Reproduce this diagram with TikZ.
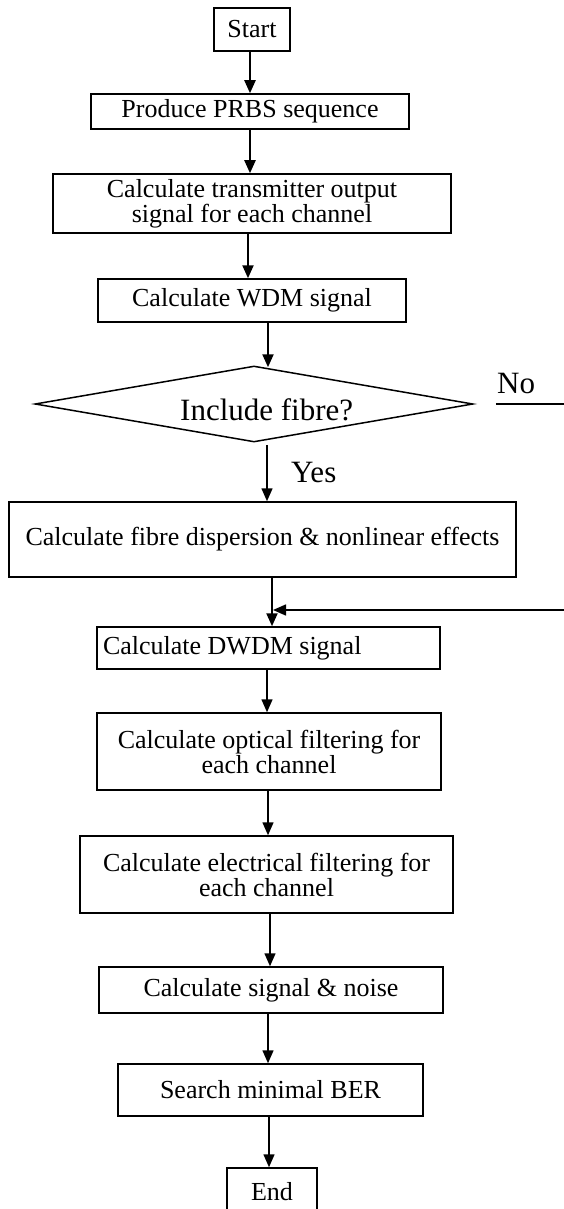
\documentclass[tikz,border=0pt]{standalone}
\usepackage{fontspec}
\setmainfont{Liberation Serif}
\usetikzlibrary{arrows.meta,shapes.geometric}
\begin{document}
\begin{tikzpicture}[x=1pt,y=-1pt,
  box/.style={draw, line width=1.5pt, rectangle, inner sep=0pt, align=center,
              font=\fontsize{26}{25}\selectfont},
  arr/.style={line width=1.5pt, -{Triangle[length=13pt,width=11pt]}},
  heavy/.style={line width=2.2pt},
  lbl/.style={inner sep=0pt, font=\fontsize{31}{31}\selectfont}]
\useasboundingbox (0,0) rectangle (564,1209);

% process boxes
\node[box, minimum width=76pt,  minimum height=43pt] (start) at (252,29.5)  {Start};
\node[box, minimum width=318pt, minimum height=35pt] (prbs)  at (250,111.5) {Produce PRBS sequence};
\node[box, minimum width=398pt, minimum height=59pt] (trans) at (252,203.5) {Calculate transmitter output\\signal for each channel};
\node[box, minimum width=308pt, minimum height=43pt] (wdm)   at (252,300.5) {Calculate WDM signal};

% decision
\node[draw, line width=1.5pt, diamond, shape aspect=5.76, inner sep=0pt,
      minimum width=438pt, minimum height=76pt] (dia) at (254,404) {};
\node[lbl, anchor=base west] (ask) at (180,420) {Include fibre?};
\node[lbl, anchor=base west] (yes) at (291,482) {Yes};
\node[lbl, anchor=base west] (no)  at (497,393) {No};

\node[box, minimum width=507pt, minimum height=75pt] (fibre) at (262.5,539.5) {Calculate fibre dispersion \& nonlinear effects};
\node[box, minimum width=343pt, minimum height=42pt] (dwdm) at (268.5,648)
      {\makebox[331pt][l]{Calculate DWDM signal}};
\node[box, minimum width=344pt, minimum height=77pt] (optf) at (269,751.5) {Calculate optical filtering for\\each channel};
\node[box, minimum width=373pt, minimum height=77pt] (elef) at (266.5,874.5) {Calculate electrical filtering for\\each channel};
\node[box, minimum width=344pt, minimum height=46pt] (sn)   at (271,990) {Calculate signal \& noise};
\node[box, minimum width=305pt, minimum height=52pt] (ber)  at (270.5,1090) {Search minimal BER};
\node[box, minimum width=90pt,  minimum height=47pt] (stop) at (272,1191.5) {End};

% connectors
\coordinate (jn)    at (272,610);
\coordinate (fb)    at (572,610);
\coordinate (noend) at (572,404);

\draw[arr, heavy] ([xshift=-2pt]start.south) -- ([xshift=-2pt]start.south |- prbs.north);
\draw[arr, heavy] (prbs.south) -- (prbs.south |- trans.north);
\draw[arr, heavy] ([xshift=-4pt]trans.south) -- ([xshift=-4pt]trans.south |- wdm.north);
\draw[arr, heavy, shorten >=-2pt] ([xshift=16pt]wdm.south) -- ([xshift=16pt]wdm.south |- dia.north);
\draw[arr] ([xshift=13pt,yshift=-2pt]dia.south) -- ([xshift=13pt]dia.south |- fibre.north);
\draw[line width=1.5pt] ([xshift=22pt]dia.east) -- (noend);
\draw[arr, heavy] (fibre.south -| jn) -- (dwdm.north -| jn);
\draw[arr, shorten >=1pt] (fb) -- (jn);
\draw[arr] ([xshift=-1.5pt]dwdm.south) -- ([xshift=-1.5pt]dwdm.south |- optf.north);
\draw[arr] ([xshift=-1pt]optf.south) -- ([xshift=-1pt]optf.south |- elef.north);
\draw[arr] ([xshift=3.5pt]elef.south) -- ([xshift=3.5pt]elef.south |- sn.north);
\draw[arr] ([xshift=-3pt]sn.south) -- ([xshift=-3pt]sn.south |- ber.north);
\draw[arr] ([xshift=-1.5pt]ber.south) -- ([xshift=-1.5pt]ber.south |- stop.north);
\end{tikzpicture}
\end{document}
